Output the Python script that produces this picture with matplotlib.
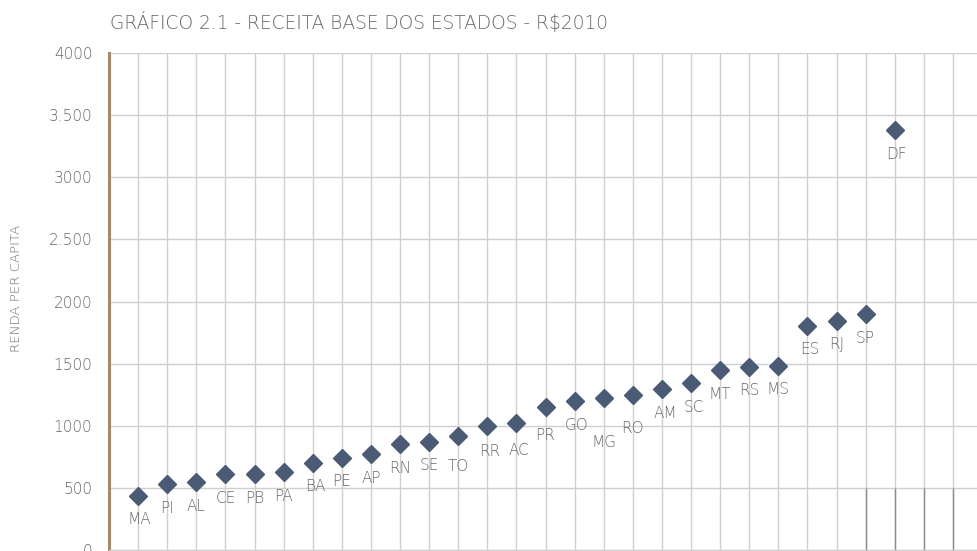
import matplotlib
matplotlib.use("Agg")
import matplotlib.pyplot as plt
import numpy as np

states = ["MA", "PI", "AL", "CE", "PB", "PA", "BA", "PE", "AP", "RN", "SE", "TO", "RR", "AC",
          "PR", "GO", "MG", "RO", "AM", "SC", "MT", "RS", "MS", "ES", "RJ", "SP", "DF"]
values = [436, 530, 544, 608, 610, 624, 701, 741, 771, 851, 870, 916, 1001, 1020,
          1151, 1197, 1226, 1248, 1292, 1344, 1446, 1473, 1481, 1805, 1847, 1898, 3379]
ytick_values = [0, 500, 1000, 1500, 2000, 2500, 3000, 3500, 4000]
ytick_labels = ["0", "500", "1000", "1500", "2000", "2.500", "3000", "3.500", "4000"]
title = "GRÁFICO 2.1 - RECEITA BASE DOS ESTADOS - R$2010"
ylabel = "RENDA PER CAPITA"

# label offsets below marker (pixels), default 24
label_dy = {"MG": 45, "RO": 34, "PR": 29, "TO": 30, "AC": 27, "RR": 26}
label_dx = {"GO": 2, "AC": 3, "RR": 2, "MA": 1, "BA": 3, "AM": 3, "SC": 3, "ES": 2, "DF": 2}

W, H = 977, 551
dpi = 100
fig = plt.figure(figsize=(W / dpi, H / dpi), dpi=dpi)
ax = fig.add_axes([109 / W, 1 / H, 1 - 109 / W, (550 - 53) / H])

font = "DejaVu Sans"
fw = 200
txt_color = "#686868"

x = np.arange(1, len(states) + 1)
ax.set_xlim(0, (W - 109) / 29.1)
ax.set_ylim(0, 4000)

# grid
ax.set_xticks(np.arange(1, 30))
ax.set_xticklabels([])
ax.set_yticks(ytick_values)
ax.set_yticklabels(ytick_labels, fontsize=11, color=txt_color, family=font, fontweight=fw)
ax.tick_params(axis="both", length=0)
ax.tick_params(axis="y", pad=12)
ax.grid(True, color="#cfcfcf", linewidth=1.0)
ax.set_axisbelow(True)

# darker bottom-right lines
n = len(states)
ax.vlines(np.arange(n - 1, n + 3), 0, 500, color="#8c8c8c", linewidth=1.0, zorder=1)

for s in ["top", "right"]:
    ax.spines[s].set_visible(False)
ax.spines["bottom"].set_color("#cfcfcf")
ax.spines["left"].set_color("#a6896b")
ax.spines["left"].set_linewidth(2.2)

ax.plot(x, values, linestyle="none", marker="D", markersize=9.5,
        color="#4b5a75", markeredgecolor="#4b5a75", zorder=3)

for xi, v, s in zip(x, values, states):
    dy = label_dy.get(s, 24)
    dx = label_dx.get(s, 0)
    ax.annotate(s, (xi, v), xytext=(dx * 72 / dpi, -dy * 72 / dpi), textcoords="offset points",
                ha="center", va="center", fontsize=11, color=txt_color, family=font,
                fontweight=fw, annotation_clip=False)

fig.text(110 / W, 1 - 22 / H, title, ha="left", va="center", fontsize=13.4,
         color=txt_color, family=font, fontweight=fw)
fig.text(16 / W, 1 - 288 / H, ylabel, ha="center", va="center", rotation=90,
         fontsize=9.5, color=txt_color, family=font, fontweight=fw)

fig.savefig("out.png", dpi=dpi)
